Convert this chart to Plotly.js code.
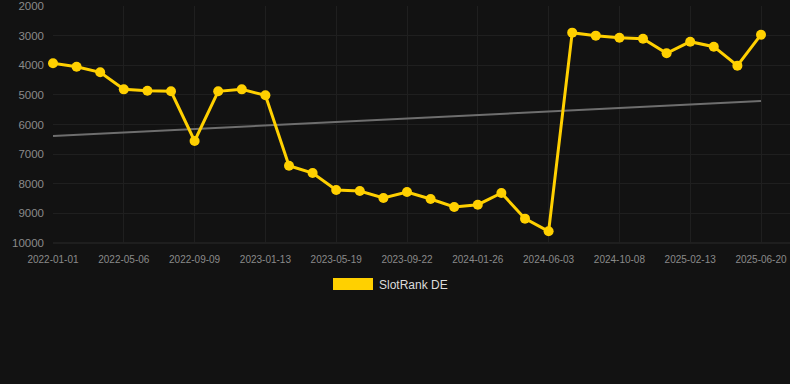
<!DOCTYPE html>
<html>
<head>
<meta charset="utf-8">
<script src="https://cdn.plot.ly/plotly-3.0.1.min.js"></script>
<style>
  html, body { margin: 0; padding: 0; background: #121212; }
  #chart { width: 790px; height: 384px; }
</style>
</head>
<body>
<div id="chart"></div>
<script>
// Data
const dates = [
  "2022-01-01", "2022-02-12", "2022-03-25",
  "2022-05-06", "2022-06-17", "2022-07-29",
  "2022-09-09", "2022-10-21", "2022-12-02",
  "2023-01-13", "2023-02-24", "2023-04-07",
  "2023-05-19", "2023-06-30", "2023-08-11",
  "2023-09-22", "2023-11-03", "2023-12-15",
  "2024-01-26", "2024-03-09", "2024-04-21",
  "2024-06-03", "2024-07-15", "2024-08-26",
  "2024-10-08", "2024-11-20", "2025-01-01",
  "2025-02-13", "2025-03-27", "2025-05-08",
  "2025-06-20"
];
const rankDE = [
  3935, 4048, 4239,
  4813, 4858, 4880,
  6557, 4880, 4813,
  5015, 7390, 7637,
  8211, 8245, 8481,
  8279, 8515, 8785,
  8706, 8312, 9178,
  9606, 2900, 3001,
  3069, 3103, 3597,
  3204, 3373, 4014,
  2968
];
const trendDates = ["2022-01-01", "2025-06-20"];
const trendValues = [6390, 5205];
const tickDates = ["2022-01-01", "2022-05-06", "2022-09-09", "2023-01-13", "2023-05-19",
  "2023-09-22", "2024-01-26", "2024-06-03", "2024-10-08", "2025-02-13", "2025-06-20"];
const yTicks = [2000, 3000, 4000, 5000, 6000, 7000, 8000, 9000, 10000];
const seriesName = "SlotRank DE";

const yellow = "#FFD000";

const traces = [
  {
    x: trendDates, y: trendValues, type: "scatter", mode: "lines",
    line: { color: "#6e6e6e", width: 2 },
    hoverinfo: "skip", showlegend: false
  },
  {
    x: dates, y: rankDE, type: "scatter", mode: "lines+markers",
    name: seriesName,
    line: { color: yellow, width: 3 },
    marker: { color: yellow, size: 10 },
    cliponaxis: false, showlegend: false
  }
];

const plotW = 790 - 53 - 0;
const plotH = 384 - 6 - 141;
const px = v => (v - 53) / plotW;
const py = v => (243 - v) / plotH;

const layout = {
  width: 790, height: 384,
  margin: { l: 53, r: 0, t: 6, b: 141, pad: 0 },
  paper_bgcolor: "#121212",
  plot_bgcolor: "#121212",
  font: { family: "Liberation Sans, Arial, sans-serif", color: "#8a8a8a" },
  showlegend: false,
  xaxis: {
    type: "category",
    categoryorder: "array",
    categoryarray: dates,
    range: [0, (790 - 53) / ((761 - 53) / (dates.length - 1))],
    tickmode: "array",
    tickvals: tickDates,
    ticktext: tickDates,
    tickfont: { size: 10, color: "#8a8a8a" },
    showgrid: true, gridcolor: "#1f1f1f", gridwidth: 1,
    zeroline: false, showline: false,
    ticks: "", ticklabelstandoff: 9, fixedrange: true
  },
  yaxis: {
    range: [10000, 2000],
    tickmode: "array",
    tickvals: yTicks,
    ticktext: yTicks.map(String),
    tickfont: { size: 11.5, color: "#8a8a8a" },
    showgrid: true, gridcolor: "#1f1f1f", gridwidth: 1,
    zeroline: false, showline: false,
    ticks: "", ticklabelstandoff: 8,
    fixedrange: true
  },
  shapes: [
    {
      type: "line", xref: "paper", yref: "paper",
      x0: 0, x1: 1, y0: 0, y1: 0,
      line: { color: "#2a2a2a", width: 1 }, layer: "below"
    },
    {
      type: "rect", xref: "paper", yref: "paper",
      x0: px(333), x1: px(373), y0: py(278), y1: py(290),
      fillcolor: yellow, line: { width: 0 }
    }
  ],
  annotations: [
    {
      xref: "paper", yref: "paper",
      x: px(377), y: py(284.5), xanchor: "left", yanchor: "middle",
      text: seriesName, showarrow: false,
      font: { size: 12, color: "#dcdcdc", family: "Liberation Sans, Arial, sans-serif" }
    }
  ]
};

Plotly.newPlot("chart", traces, layout, { displayModeBar: false, staticPlot: true });
</script>
</body>
</html>
